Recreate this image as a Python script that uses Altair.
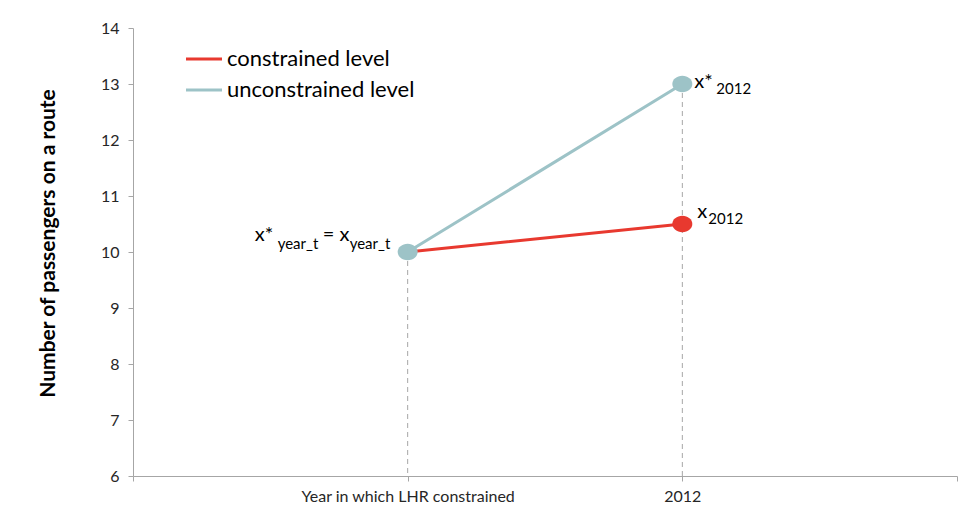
import altair as alt
import pandas as pd

# ---------------- data ----------------
categories = ["Year in which LHR constrained", "2012"]
cat_pos = [1, 2]
x_domain = [0, 3]
x_ticks = [0, 1, 2, 3]
series = ["constrained level", "unconstrained level"]
constrained = [10.0, 10.5]
unconstrained = [10.0, 13.0]
y_ticks = [6, 7, 8, 9, 10, 11, 12, 13, 14]
y_title = "Number of passengers on a route"

# annotation texts (main / subscript parts)
ann_left = ["x*", "year_t", "= x", "year_t"]
ann_u2012 = ["x*", "2012"]
ann_c2012 = ["x", "2012"]

# ---------------- style ----------------
FONT = "Lato"
RED = "#E8392F"
TEAL = "#9DC3C7"
GRAY = "#A6A6A6"
colors = [RED, TEAL]

label_expr = "".join(
    f"datum.value == {p} ? '{c}' : " for p, c in zip(cat_pos, categories)
) + "''"

xscale = alt.Scale(domain=x_domain, nice=False, zero=False)
yscale = alt.Scale(domain=[y_ticks[0], y_ticks[-1]], nice=False, zero=False)

xaxis = alt.Axis(
    values=x_ticks, labelExpr=label_expr, title=None, grid=False,
    domainColor=GRAY, tickColor=GRAY, tickSize=5, labelFont=FONT,
    labelFontSize=16, labelColor="#262626", labelPadding=7,
    labelFlush=False, labelOverlap=False, labelLimit=0,
)
yaxis = alt.Axis(
    values=y_ticks, format="d", title=y_title, grid=False,
    domainColor=GRAY, tickColor=GRAY, tickSize=5, labelFont=FONT,
    labelFontSize=16, labelColor="#262626", labelPadding=9,
    titleFont=FONT, titleFontSize=21, titleFontWeight="bold",
    titleColor="black", titleAngle=270, titleX=-85, titleY=215,
    titleAlign="center", titleBaseline="middle", titleLimit=0,
)

X = alt.X("x:Q", scale=xscale, axis=xaxis)
Y = alt.Y("y:Q", scale=yscale, axis=yaxis)

line_df = pd.DataFrame({
    "x": cat_pos * 2,
    "y": constrained + unconstrained,
    "series": [series[0]] * len(cat_pos) + [series[1]] * len(cat_pos),
})

rule_df = pd.DataFrame({
    "x": cat_pos,
    "y": [max(c, u) for c, u in zip(constrained, unconstrained)],
    "base": [y_ticks[0]] * len(cat_pos),
})

rules = alt.Chart(rule_df).mark_rule(
    color=GRAY, strokeWidth=1, strokeDash=[5, 4]
).encode(x=X, y=Y, y2="base:Q")

lines = alt.Chart(line_df).mark_line(strokeWidth=3, strokeCap="round").encode(
    x=X, y=Y,
    color=alt.Color(
        "series:N",
        scale=alt.Scale(domain=series, range=colors),
        legend=alt.Legend(
            title=None, orient="none", legendX=60, legendY=20,
            symbolType="M-2,0H2", symbolSize=324, symbolStrokeWidth=3,
            labelFont=FONT, labelFontSize=22, labelColor="black",
            labelOffset=12, rowPadding=9, padding=0, labelLimit=0,
        ),
    ),
    order=alt.Order("series:N", sort="descending"),
)

ELL = "M-1,0A1,0.82,0,1,1,1,0A1,0.82,0,1,1,-1,0Z"

red_pts = alt.Chart(pd.DataFrame({"x": cat_pos[1:], "y": constrained[1:]})).mark_point(
    shape=ELL, size=400, filled=True, opacity=1, color=RED, strokeWidth=0
).encode(x=X, y=Y)

teal_pts = alt.Chart(pd.DataFrame({"x": cat_pos, "y": unconstrained})).mark_point(
    shape=ELL, size=400, filled=True, opacity=1, color=TEAL, strokeWidth=0
).encode(x=X, y=Y)


def seg(xv, yv, text, dx, dy, size):
    return alt.Chart(pd.DataFrame({"x": [xv], "y": [yv], "t": [text]})).mark_text(
        align="left", baseline="alphabetic", dx=dx, dy=dy, font=FONT,
        fontSize=size, color="black"
    ).encode(x=X, y=Y, text="t:N")


texts = [
    seg(cat_pos[0], unconstrained[0], ann_left[0], -153, -11, 20),
    seg(cat_pos[0], unconstrained[0], ann_left[1], -130, -3, 15),
    seg(cat_pos[0], unconstrained[0], ann_left[2], -85, -11, 20),
    seg(cat_pos[0], unconstrained[0], ann_left[3], -58, -3, 15),
    seg(cat_pos[1], unconstrained[1], ann_u2012[0], 12, 4, 20),
    seg(cat_pos[1], unconstrained[1], ann_u2012[1], 34, 10, 15),
    seg(cat_pos[1], constrained[1], ann_c2012[0], 15, -6, 20),
    seg(cat_pos[1], constrained[1], ann_c2012[1], 26, 0, 15),
]

chart = alt.layer(rules, lines, red_pts, teal_pts, *texts).properties(
    width=824, height=448,
    autosize=alt.AutoSizeParams(type="none"),
    padding={"left": 125, "top": 20, "right": 13, "bottom": 31},
    background="white",
).configure_view(stroke=None)

chart.save("out.html", embed_options={"renderer": "svg", "actions": False})
